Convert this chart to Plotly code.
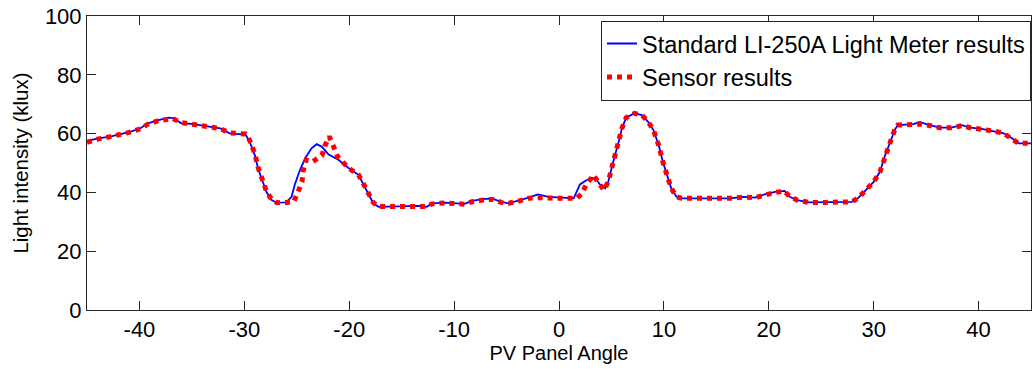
import plotly.graph_objects as go

# Standard LI-250A light meter (blue)
meter_angle = [-45, -43.9, -42.8, -41.9, -40.9, -39.9, -39.2, -38.2, -37.2, -36.8, -36.0, -35.0, -34.2,
               -33.3, -32.3, -31.4, -30.6, -29.9, -29.5, -29.0, -28.7, -28.3, -27.9, -27.4, -26.9, -26.0,
               -25.5, -25.2, -24.7, -24.2, -23.6, -23.1, -22.6, -22.0, -21.0, -20.1, -19.1, -18.7, -18.2,
               -17.7, -17.2, -15.0, -13.4, -12.6, -12.1, -10.9, -9.0, -8.3, -7.1, -6.3, -5.5, -4.8, -3.9,
               -2.9, -2.0, -1.0, 0.3, 1.4, 2.0, 2.5, 3.1, 3.6, 3.9, 4.4, 4.7, 5.0, 5.3, 5.7, 6.0, 6.4,
               7.2, 7.9, 8.5, 9.0, 9.5, 9.9, 10.3, 10.7, 11.2, 11.7, 16.3, 17.6, 18.7, 19.6, 20.6, 21.5,
               22.0, 22.7, 23.8, 25.4, 27.9, 28.5, 29.2, 30.0, 30.6, 31.1, 31.6, 32.0, 32.3, 33.8, 34.4,
               35.0, 36.3, 37.4, 38.4, 39.2, 40.3, 41.4, 42.4, 43.2, 43.8, 45.0]
meter_klux = [57.5, 58.4, 59.0, 59.8, 60.6, 61.8, 63.5, 64.6, 65.4, 65.3, 63.5, 63.3, 62.9,
              62.3, 61.8, 60.1, 59.8, 59.8, 57.3, 52.7, 48.2, 44.2, 40.2, 37.4, 36.5, 36.6,
              38.5, 42.5, 47.6, 51.6, 55.0, 56.4, 55.5, 53.0, 51.0, 48.4, 45.9, 43.1, 39.7,
              36.3, 35.1, 35.3, 35.4, 35.1, 36.3, 36.5, 36.1, 37.1, 37.8, 37.8, 36.8, 36.3, 37.1,
              38.2, 39.3, 38.5, 38.2, 38.0, 42.7, 43.9, 45.0, 44.2, 42.7, 41.4, 43.7, 48.2, 52.2, 57.3, 61.8, 65.4,
              66.9, 66.3, 64.0, 61.2, 56.1, 50.4, 45.9, 41.4, 38.5, 38.0, 38.0, 38.5, 38.2, 39.3, 40.2, 40.5,
              38.5, 37.4, 36.6, 36.6, 36.8, 38.0, 40.5, 43.6, 47.0, 52.7, 57.3, 61.2, 62.9, 63.2, 64.0,
              63.2, 62.0, 62.0, 62.9, 62.0, 61.6, 60.9, 60.1, 58.4, 56.7, 56.7]

# Sensor (red dotted)
sensor_angle = [-45, -43.9, -42.8, -41.9, -40.9, -39.9, -39.2, -38.2, -37.2, -36.8, -36.0, -35.0, -34.2,
                -33.3, -32.3, -31.4, -30.6, -29.9, -29.5, -29.0, -28.7, -28.3, -27.9, -27.4, -26.9, -26.0,
                -25.3, -24.9, -24.5, -24.4, -24.1, -23.5, -22.6, -22.3, -21.9, -21.5, -21.1, -20.1, -19.1,
                -18.7, -18.2, -17.7, -17.2, -15.0, -13.4, -12.6, -12.1, -10.9, -9.0, -8.3, -7.1, -6.3, -5.5,
                -4.8, -3.9, -2.9, -2.0, -1.0, 0.3, 1.7, 2.2, 2.6, 3.3, 3.7, 4.3, 4.7, 5.0, 5.3, 5.7, 6.0,
                6.4, 7.2, 7.9, 8.5, 9.0, 9.5, 9.9, 10.3, 10.7, 11.2, 11.7, 16.3, 17.6, 18.7, 19.6, 20.6,
                21.5, 22.0, 22.7, 23.8, 25.4, 27.9, 28.5, 29.2, 30.0, 30.6, 31.1, 31.6, 32.0, 32.3, 33.8,
                34.4, 35.0, 36.3, 37.4, 38.4, 39.2, 40.3, 41.4, 42.4, 43.2, 43.8, 45.0]
sensor_klux = [57.0, 58.2, 58.9, 59.6, 60.5, 61.6, 63.2, 64.4, 65.2, 65.1, 63.7, 63.2, 62.8,
               62.2, 61.7, 60.2, 59.9, 59.9, 57.8, 53.2, 48.6, 44.6, 40.5, 37.6, 36.5, 36.6,
               36.8, 40.0, 43.6, 47.3, 51.0, 50.4, 52.6, 56.0, 59.0, 55.6, 52.1, 48.4, 45.9,
               43.3, 40.0, 36.5, 35.2, 35.2, 35.3, 35.2, 36.1, 36.4, 36.0, 36.8, 37.5, 37.6, 36.6,
               36.3, 37.0, 38.0, 38.2, 38.0, 38.0, 38.0, 39.7, 42.7, 45.9, 43.6, 40.8, 43.7, 48.2, 52.2, 57.3, 61.8,
               65.4, 66.9, 66.3, 64.0, 61.2, 56.1, 50.4, 45.9, 41.4, 38.5, 38.0, 38.0, 38.4, 38.2, 39.2, 40.0,
               40.4, 38.6, 37.4, 36.6, 36.6, 36.8, 38.0, 40.5, 43.6, 47.0, 52.7, 57.3, 61.2, 62.9, 63.1,
               63.3, 63.0, 62.0, 62.0, 62.7, 62.0, 61.6, 60.9, 60.1, 58.4, 56.7, 56.7]

x_ticks = [-40, -30, -20, -10, 0, 10, 20, 30, 40]
x_tick_labels = ["-40", "-30", "-20", "-10", "0", "10", "20", "30", "40"]
y_ticks = [0, 20, 40, 60, 80, 100]

font_family = "Liberation Sans, Arial, sans-serif"

fig = go.Figure()
fig.add_trace(go.Scatter(x=meter_angle, y=meter_klux, mode="lines",
                         name="Standard LI-250A Light Meter results",
                         line=dict(color="#0000FF", width=1.8)))
fig.add_trace(go.Scatter(x=sensor_angle, y=sensor_klux, mode="lines",
                         name="Sensor results",
                         line=dict(color="#FF0000", width=5, dash="5px,5px")))

axis_common = dict(showgrid=False, zeroline=False, showline=True, linecolor="#262626", linewidth=1,
                   mirror="ticks", ticks="inside", ticklen=9, tickcolor="#262626", tickwidth=1,
                   tickfont=dict(family=font_family, size=22, color="#000000"))

fig.update_xaxes(range=[-45, 45], tickvals=x_ticks, ticktext=x_tick_labels,
                 title=dict(text="PV Panel Angle", font=dict(family=font_family, size=20, color="#000000"),
                            standoff=2),
                 **axis_common)
fig.update_yaxes(range=[0, 100], tickvals=y_ticks,
                 title=dict(text="Light intensity (klux)", font=dict(family=font_family, size=20.5, color="#000000"),
                            standoff=10),
                 **axis_common)

fig.update_layout(
    width=1033, height=369,
    margin=dict(l=87, r=2, t=16, b=59, autoexpand=False),
    plot_bgcolor="white", paper_bgcolor="white",
    font=dict(family=font_family, color="#000000"),
    legend=dict(x=1.0, xanchor="right", y=0.984, yanchor="top",
                bordercolor="#262626", borderwidth=1, bgcolor="white",
                font=dict(family=font_family, size=23.5, color="#000000"),
                tracegroupgap=0),
    showlegend=True,
)

fig.write_html("out.html", config={"displayModeBar": False},
               post_script="document.body.style.margin='0';document.body.style.overflow='hidden';")
